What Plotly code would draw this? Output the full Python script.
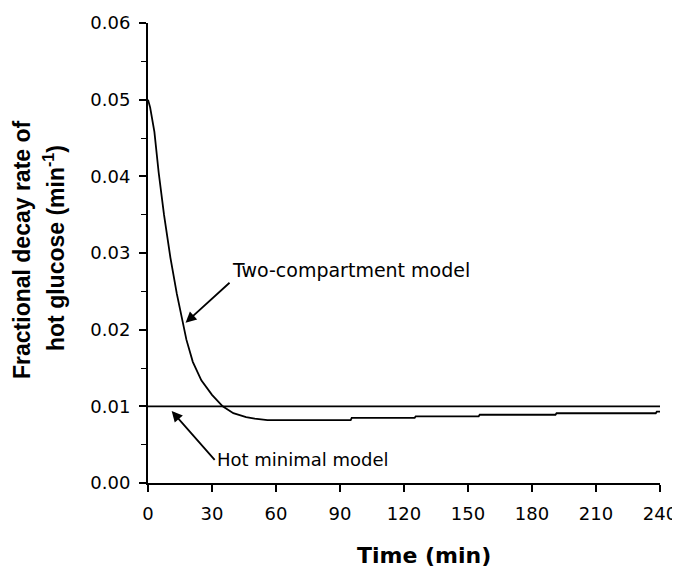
import plotly.graph_objects as go

# Two-compartment model fractional decay rate (min^-1)
two_comp_t = [0, 1, 3, 5, 7.5, 10.5, 13.5, 16.5, 18, 21, 25, 30, 35, 40, 46, 50, 55, 56, 95, 95.5, 125, 125.5, 155, 155.5, 191, 191.5, 238, 238.5, 240]
two_comp_v = [0.0500, 0.0490, 0.0458, 0.0405, 0.0350, 0.0294, 0.0247, 0.0208, 0.0187, 0.0158, 0.0134, 0.0115, 0.0100, 0.0091, 0.0086, 0.0084, 0.0083, 0.0082, 0.0082, 0.0085, 0.0085, 0.0087, 0.0087, 0.0089, 0.0089, 0.0091, 0.0091, 0.0093, 0.0093]

# Hot minimal model (constant)
hot_min_t = [0, 240]
hot_min_v = [0.0100, 0.0100]

x_ticks = [0, 30, 60, 90, 120, 150, 180, 210, 240]
y_ticks = [0.00, 0.01, 0.02, 0.03, 0.04, 0.05, 0.06]

FONT = "DejaVu Sans, Verdana, sans-serif"
TITLE_FONT = "Liberation Sans, Arial, Helvetica, sans-serif"

fig = go.Figure()
fig.add_trace(go.Scatter(x=hot_min_t, y=hot_min_v, mode="lines",
                         line=dict(color="black", width=1.8), cliponaxis=False, showlegend=False))
fig.add_trace(go.Scatter(x=two_comp_t, y=two_comp_v, mode="lines",
                         line=dict(color="black", width=1.8), cliponaxis=False, showlegend=False))

font_tick = dict(family=FONT, size=18, color="black")

# page body has an 8px margin, so the figure is sized to fit the window
fig.update_layout(
    width=672, height=561,
    margin=dict(l=140, r=20, t=15, b=86),
    paper_bgcolor="white", plot_bgcolor="white",
    font=font_tick,
    xaxis=dict(range=[0, 240], tickvals=x_ticks, ticks="outside", ticklen=7, tickwidth=1.8,
               tickcolor="black", showline=True, linecolor="black", linewidth=2,
               showgrid=False, zeroline=False, automargin=False, ticklabelstandoff=6,
               ticklabeloverflow="allow", tickfont=font_tick),
    yaxis=dict(range=[0, 0.06], tickvals=y_ticks, tickformat=".2f", ticks="outside", ticklen=7,
               tickwidth=1.8, tickcolor="black", showline=True, linecolor="black", linewidth=2,
               showgrid=False, zeroline=False, automargin=False, ticklabelstandoff=5,
               ticklabeloverflow="allow", tickfont=font_tick,
               minor=dict(dtick=0.005, ticks="outside", ticklen=5, tickwidth=1.2,
                          tickcolor="black", showgrid=False)),
    annotations=[
        dict(text="<b>Time (min)</b>", xref="paper", yref="paper", x=0.5, xshift=20, y=0,
             yshift=-72, xanchor="center", yanchor="middle", showarrow=False,
             font=dict(family=FONT, size=22)),
        dict(text="<b>Fractional decay rate of</b>", xref="paper", yref="paper",
             x=0, xshift=-126, y=0.5, yshift=3, xanchor="center", yanchor="middle",
             textangle=-90, showarrow=False, font=dict(family=TITLE_FONT, size=23)),
        dict(text="<b>hot glucose (min<sup>-1</sup>)</b>", xref="paper", yref="paper",
             x=0, xshift=-94, y=0.5, yshift=5, xanchor="center", yanchor="middle",
             textangle=-90, showarrow=False, font=dict(family=TITLE_FONT, size=23)),
        dict(text="Two-compartment model", x=17.6, y=0.0209, xref="x", yref="y",
             ax=44, ay=-40, showarrow=True, arrowhead=2, arrowsize=1.2, arrowwidth=1.8,
             arrowcolor="black", xanchor="left", yanchor="bottom",
             font=dict(family=FONT, size=19)),
        dict(text="Hot minimal model", x=11.1, y=0.0094, xref="x", yref="y",
             ax=43, ay=49, showarrow=True, arrowhead=2, arrowsize=1.2, arrowwidth=1.8,
             arrowcolor="black", xanchor="left", yanchor="middle",
             font=dict(family=FONT, size=18)),
    ],
)

fig.write_html("out.html")
